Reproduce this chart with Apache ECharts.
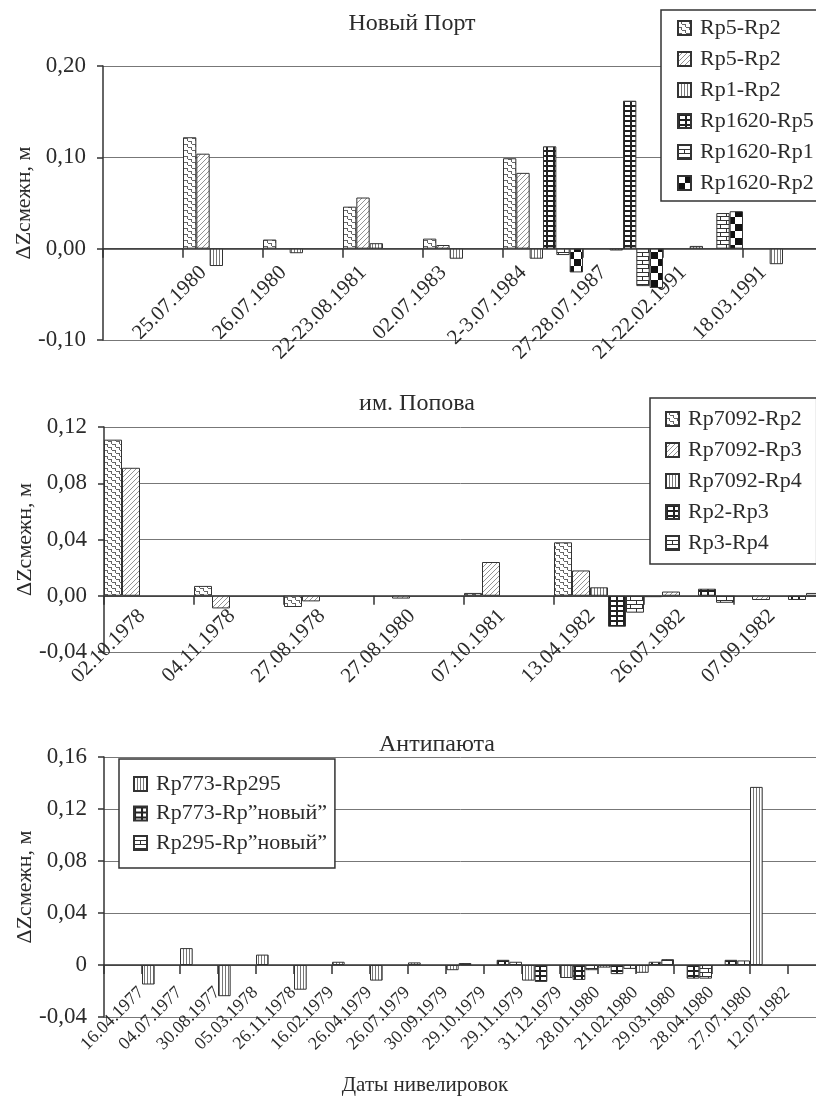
<!DOCTYPE html>
<html>
<head>
<meta charset="utf-8">
<title>ΔZсмежн</title>
<script src="https://cdn.jsdelivr.net/npm/echarts@6/dist/echarts.min.js"></script>
<style>
  html, body { margin: 0; padding: 0; background: #fff; }
  #chart { width: 816px; height: 1099px; }
</style>
</head>
<body>
<div id="chart"></div>
<script>
"use strict";

// Новый Порт (первая категория пустая)
var portCats = ["", "25.07.1980", "26.07.1980", "22-23.08.1981", "02.07.1983", "2-3.07.1984", "27-28.07.1987", "21-22.02.1991", "18.03.1991"];
var portRp5Rp2a = [null, 0.122, 0.010, 0.046, 0.011, 0.099, null, null, null];
var portRp5Rp2b = [null, 0.104, null, 0.056, 0.004, 0.083, null, null, null];
var portRp1Rp2 = [null, -0.019, -0.005, 0.006, -0.011, -0.011, -0.002, 0.003, -0.017];
var portRp1620Rp5 = [null, null, null, null, null, 0.112, 0.162, null, null];
var portRp1620Rp1 = [null, null, null, null, null, -0.007, -0.041, 0.039, null];
var portRp1620Rp2 = [null, null, null, null, null, -0.026, -0.043, 0.041, null];

// им. Попова
var popCats = ["02.10.1978", "04.11.1978", "27.08.1978", "27.08.1980", "07.10.1981", "13.04.1982", "26.07.1982", "07.09.1982"];
var popRp7092Rp2 = [0.111, 0.007, -0.008, null, 0.002, 0.038, -0.001, null];
var popRp7092Rp3 = [0.091, -0.009, -0.004, -0.002, 0.024, 0.018, 0.003, -0.003];
var popRp7092Rp4 = [null, null, null, null, null, 0.006, null, null];
var popRp2Rp3 = [null, null, null, null, null, -0.022, 0.005, -0.003];
var popRp3Rp4 = [null, null, null, null, null, -0.012, -0.005, 0.002];

// Антипаюта (первая категория пустая)
var antCats = ["", "16.04.1977", "04.07.1977", "30.08.1977", "05.03.1978", "26.11.1978", "16.02.1979", "26.04.1979", "26.07.1979", "30.09.1979", "29.10.1979", "29.11.1979", "31.12.1979", "28.01.1980", "21.02.1980", "29.03.1980", "28.04.1980", "27.07.1980", "12.07.1982"];
var antRp773Rp295 = [null, -0.015, 0.013, -0.024, 0.008, -0.019, 0.0025, -0.012, 0.002, -0.004, null, -0.012, -0.010, -0.002, -0.006, null, null, 0.137, null];
var antRp773RpNew = [null, null, null, null, null, null, null, null, null, 0.0015, 0.004, -0.013, -0.0115, -0.007, 0.0025, -0.0105, 0.004, null, null];
var antRp295RpNew = [null, null, null, null, null, null, null, null, null, null, 0.0025, null, -0.004, -0.003, 0.0045, -0.0105, 0.0035, null, null];

var FONT = "'Liberation Serif', 'DejaVu Serif', serif";
var INK = "#2b2b2b";

function makePattern(w, h, draw) {
    var c = document.createElement("canvas");
    c.width = w;
    c.height = h;
    var ctx = c.getContext("2d");
    ctx.fillStyle = "#fff";
    ctx.fillRect(0, 0, w, h);
    draw(ctx);
    return {image: c, repeat: "repeat"};
}

var patDash = makePattern(8, 6, function (ctx) {
    ctx.fillStyle = "#666";
    ctx.fillRect(0, 0, 3, 1);
    ctx.fillRect(4, 3, 3, 1);
    ctx.fillRect(3, 0, 1, 3);
    ctx.fillRect(7, 3, 1, 3);
});
var patHatch = makePattern(5, 5, function (ctx) {
    ctx.strokeStyle = "#777";
    ctx.lineWidth = 0.8;
    ctx.beginPath();
    ctx.moveTo(0, 5); ctx.lineTo(5, 0);
    ctx.moveTo(-1, 1); ctx.lineTo(1, -1);
    ctx.moveTo(4, 6); ctx.lineTo(6, 4);
    ctx.stroke();
});
var patVert = makePattern(3, 4, function (ctx) {
    ctx.fillStyle = "#777";
    ctx.fillRect(0, 0, 1, 4);
});
var patGrid = makePattern(7, 5, function (ctx) {
    ctx.fillStyle = "#222";
    ctx.fillRect(0, 0, 7, 2);
    ctx.fillRect(0, 0, 2, 5);
});
var patBrick = makePattern(12, 8, function (ctx) {
    ctx.fillStyle = "#333";
    ctx.fillRect(0, 0, 12, 1);
    ctx.fillRect(0, 4, 12, 1);
    ctx.fillRect(0, 0, 1, 4);
    ctx.fillRect(6, 4, 1, 4);
});
var patCheck = makePattern(14, 14, function (ctx) {
    ctx.fillStyle = "#111";
    ctx.fillRect(7, 0, 7, 7);
    ctx.fillRect(0, 7, 7, 7);
});

function fmt2(v) {
    return v.toFixed(2).replace(".", ",");
}
function fmtZero(v) {
    return Math.abs(v) < 1e-9 ? "0" : fmt2(v);
}

function bar(name, data, idx, pat) {
    return {
        name: name,
        type: "bar",
        xAxisIndex: idx,
        yAxisIndex: idx,
        data: data,
        barGap: "0%",
        barCategoryGap: "0%",
        itemStyle: {color: pat, borderColor: "#333", borderWidth: 1}
    };
}

// ось категорий сдвинута к нулю через offset (высота сетки * max/(max-min))
function xAxis(idx, cats, fontSize, margin, pad, offset) {
    return {
        type: "category",
        gridIndex: idx,
        data: cats,
        offset: offset,
        axisLine: {onZero: false, lineStyle: {color: "#333", width: 1.5}},
        axisTick: {show: true, interval: 0, length: 9, lineStyle: {color: "#333", width: 1.5}},
        axisLabel: {interval: 0, rotate: 45, fontSize: fontSize, margin: margin, padding: [0, pad, 0, 0],
            fontFamily: FONT, color: INK},
        splitLine: {show: false}
    };
}

function yAxis(idx, min, max, step, formatter) {
    return {
        type: "value",
        gridIndex: idx,
        min: min,
        max: max,
        interval: step,
        name: "ΔZсмежн, м",
        nameLocation: "middle",
        nameRotate: 90,
        nameGap: 68,
        nameMoveOverlap: false,
        nameTextStyle: {fontSize: 22, fontFamily: FONT, color: INK},
        axisLine: {show: true, lineStyle: {color: "#333", width: 1.5}},
        axisTick: {show: true, length: 6, lineStyle: {color: "#333", width: 1.5}},
        axisLabel: {formatter: formatter, fontSize: 23, margin: 17, fontFamily: FONT, color: INK},
        splitLine: {show: true, lineStyle: {color: "#777", width: 1}}
    };
}

function legend(names, left, top, padding, gap) {
    return {
        data: names,
        orient: "vertical",
        left: left,
        top: top,
        padding: padding,
        itemGap: gap,
        itemWidth: 13,
        itemHeight: 14,
        icon: "rect",
        selectedMode: false,
        borderColor: "#333",
        borderWidth: 1.5,
        backgroundColor: "#fff",
        textStyle: {fontSize: 22, fontFamily: FONT, color: INK, padding: [0, 0, 0, 4]}
    };
}

function title(text, left, top, size) {
    return {
        text: text, left: left, top: top, textAlign: "center", padding: 0,
        textStyle: {fontSize: size, fontWeight: "normal", fontFamily: FONT, color: INK}
    };
}

var portNames = ["Rp5-Rp2", "Rp5-Rp2 ", "Rp1-Rp2", "Rp1620-Rp5", "Rp1620-Rp1", "Rp1620-Rp2"];
var popNames = ["Rp7092-Rp2", "Rp7092-Rp3", "Rp7092-Rp4", "Rp2-Rp3", "Rp3-Rp4"];
var antNames = ["Rp773-Rp295", "Rp773-Rp”новый”", "Rp295-Rp”новый”"];

var chart = echarts.init(document.getElementById("chart"), null, {renderer: "canvas"});
chart.setOption({
    animation: false,
    backgroundColor: "#fff",
    title: [
        title("Новый Порт", 412, 12, 24),
        title("им. Попова", 417, 392, 24),
        title("Антипаюта", 437, 733, 24),
        title("Даты нивелировок", 425, 1075, 21)
    ],
    legend: [
        legend(portNames, 661, 10, [7, 12, 7, 16], 9),
        legend(popNames, 650, 398, [10, 15, 10, 15], 9),
        legend(antNames, 119, 759, [14, 8, 14, 14], 7.5)
    ],
    grid: [
        {left: 103, top: 66, width: 720, height: 274, outerBoundsMode: "none"},
        {left: 104, top: 427, width: 720, height: 225, outerBoundsMode: "none"},
        {left: 104, top: 757, width: 722, height: 260, outerBoundsMode: "none"}
    ],
    xAxis: [
        xAxis(0, portCats, 21, 1, 28, -91.33),
        xAxis(1, popCats, 21, 10, 10, -56.25),
        xAxis(2, antCats, 18, 5, 28, -52)
    ],
    yAxis: [
        yAxis(0, -0.1, 0.2, 0.1, fmt2),
        yAxis(1, -0.04, 0.12, 0.04, fmt2),
        yAxis(2, -0.04, 0.16, 0.04, fmtZero)
    ],
    series: [
        bar(portNames[0], portRp5Rp2a, 0, patDash),
        bar(portNames[1], portRp5Rp2b, 0, patHatch),
        bar(portNames[2], portRp1Rp2, 0, patVert),
        bar(portNames[3], portRp1620Rp5, 0, patGrid),
        bar(portNames[4], portRp1620Rp1, 0, patBrick),
        bar(portNames[5], portRp1620Rp2, 0, patCheck),
        bar(popNames[0], popRp7092Rp2, 1, patDash),
        bar(popNames[1], popRp7092Rp3, 1, patHatch),
        bar(popNames[2], popRp7092Rp4, 1, patVert),
        bar(popNames[3], popRp2Rp3, 1, patGrid),
        bar(popNames[4], popRp3Rp4, 1, patBrick),
        bar(antNames[0], antRp773Rp295, 2, patVert),
        bar(antNames[1], antRp773RpNew, 2, patGrid),
        bar(antNames[2], antRp295RpNew, 2, patBrick)
    ]
});
</script>
</body>
</html>
